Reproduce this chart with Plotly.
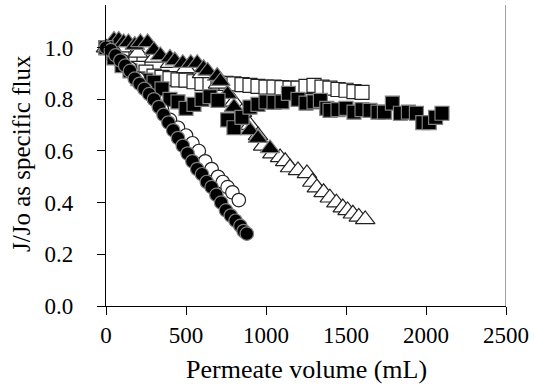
import plotly.graph_objects as go

# Filled circles
fc_x = [0, 30, 60, 90, 120, 150, 180, 210, 240, 270, 300, 330, 360, 390, 420, 450, 480, 510, 540, 570,
        600, 630, 660, 690, 720, 750, 780, 810, 840, 860, 880]
fc_y = [1.00, 0.99, 0.97, 0.95, 0.93, 0.91, 0.88, 0.86, 0.84, 0.82, 0.80, 0.77, 0.74, 0.71, 0.68, 0.65,
        0.62, 0.59, 0.56, 0.53, 0.51, 0.48, 0.46, 0.43, 0.40, 0.37, 0.35, 0.33, 0.31, 0.29, 0.28]

# Open circles
oc_x = [0, 50, 100, 150, 200, 250, 300, 350, 400, 450, 500, 540, 580, 620, 660, 700, 730, 760, 790, 830]
oc_y = [1.00, 0.98, 0.95, 0.92, 0.88, 0.84, 0.80, 0.76, 0.72, 0.69, 0.66, 0.63, 0.60, 0.56, 0.53, 0.50,
        0.48, 0.46, 0.44, 0.41]

# Filled triangles
ft_x = [50, 80, 110, 140, 180, 215, 260, 300, 340, 400, 430, 480, 530, 570, 610, 635, 695, 715, 760,
        800, 850, 900, 950, 1025]
ft_y = [1.03, 1.03, 1.02, 1.02, 1.01, 1.02, 1.02, 0.99, 0.97, 0.96, 0.95, 0.94, 0.94, 0.94, 0.92, 0.91,
        0.89, 0.87, 0.82, 0.77, 0.72, 0.68, 0.65, 0.61]

# Open triangles
ot_x = [0, 100, 200, 300, 400, 500, 600, 700, 760, 800, 850, 900, 950, 982, 1040, 1088, 1120, 1150,
        1200, 1256, 1290, 1318, 1360, 1399, 1440, 1480, 1510, 1543, 1580, 1620]
ot_y = [1.00, 1.00, 0.98, 0.96, 0.94, 0.92, 0.90, 0.86, 0.82, 0.79, 0.75, 0.70, 0.66, 0.62, 0.59, 0.575,
        0.56, 0.536, 0.525, 0.513, 0.48, 0.458, 0.44, 0.419, 0.40, 0.381, 0.37, 0.357, 0.345, 0.335]

# Open squares
os_x = [0, 50, 100, 150, 200, 250, 300, 350, 400, 450, 500, 550, 600, 650, 700, 750, 800, 850, 900,
        950, 1000, 1050, 1100, 1150, 1200, 1250, 1300, 1350, 1400, 1450, 1500, 1550, 1600]
os_y = [1.00, 0.98, 0.96, 0.94, 0.92, 0.905, 0.89, 0.885, 0.88, 0.875, 0.874, 0.868, 0.862, 0.862,
        0.862, 0.862, 0.86, 0.857, 0.854, 0.85, 0.847, 0.847, 0.845, 0.843, 0.843, 0.85, 0.854, 0.847,
        0.843, 0.838, 0.835, 0.83, 0.827]

# Filled squares
fs_x = [0, 50, 100, 150, 200, 250, 300, 350, 400, 450, 500, 550, 600, 650, 700, 760, 800, 850, 900,
        950, 1000, 1050, 1100, 1140, 1200, 1250, 1300, 1340, 1380, 1400, 1450, 1500, 1550, 1600, 1650,
        1700, 1740, 1790, 1840, 1890, 1940, 1980, 2020, 2060, 2100]
fs_y = [1.00, 0.96, 0.93, 0.91, 0.88, 0.874, 0.866, 0.84, 0.80, 0.79, 0.765, 0.78, 0.80, 0.81, 0.796,
        0.72, 0.69, 0.73, 0.77, 0.78, 0.79, 0.788, 0.79, 0.823, 0.80, 0.785, 0.79, 0.796, 0.765, 0.757,
        0.76, 0.765, 0.75, 0.76, 0.757, 0.75, 0.75, 0.785, 0.746, 0.75, 0.746, 0.71, 0.71, 0.73, 0.746]

x_ticks = [0, 500, 1000, 1500, 2000, 2500]
y_ticks = [0.0, 0.2, 0.4, 0.6, 0.8, 1.0]

FONT = "Liberation Serif, Times New Roman, serif"
fig = go.Figure()

def add(x, y, symbol, size, filled):
    fig.add_trace(go.Scatter(
        x=x, y=y, mode="markers", cliponaxis=False, showlegend=False,
        marker=dict(symbol=symbol, size=size,
                    color="black" if filled else "white",
                    line=dict(color="#808080" if filled else "#222222", width=1.2))))

add(os_x, os_y, "square", 14, False)
add(ot_x, ot_y, "triangle-up", 17, False)
add(ft_x, ft_y, "triangle-up", 17, True)
add(fs_x, fs_y, "square", 14, True)
add(oc_x, oc_y, "circle", 13.5, False)
add(fc_x, fc_y, "circle", 13.5, True)

fig.update_layout(
    width=534, height=385,
    margin=dict(l=105.5, r=27.5, t=5, b=79),
    paper_bgcolor="white", plot_bgcolor="white",
    font=dict(family=FONT, size=23, color="black"),
    xaxis=dict(range=[0, 2500], tickvals=x_ticks, ticktext=[str(v) for v in x_ticks],
               showgrid=False, zeroline=False, showline=True, linecolor="black", linewidth=1.3,
               ticks="outside", ticklen=8, tickcolor="black", tickwidth=1.3,
               tickfont=dict(family=FONT, size=23)),
    yaxis=dict(range=[0, 1.165], tickvals=y_ticks, ticktext=[f"{v:.1f}" for v in y_ticks],
               showgrid=False, zeroline=False, showline=True, linecolor="black", linewidth=1.3,
               ticks="outside", ticklen=8, tickcolor="black", tickwidth=1.3, ticklabelstandoff=19,
               tickfont=dict(family=FONT, size=23)),
    shapes=[dict(type="line", xref="x", yref="paper", x0=2500, x1=2500, y0=0, y1=1,
                 line=dict(color="#808080", width=1.5))],
    annotations=[
        dict(text="Permeate volume (mL)", xref="paper", yref="paper", x=0.5, y=-0.21,
             xanchor="center", yanchor="middle", showarrow=False,
             font=dict(family=FONT, size=26)),
        dict(text="J/Jo as specific flux", xref="paper", yref="paper", x=-0.211, y=0.507,
             xanchor="center", yanchor="middle", textangle=-90, showarrow=False,
             font=dict(family=FONT, size=25)),
    ],
)

fig.write_html("out.html", config={"displayModeBar": False},
               post_script="document.body.style.margin='0';")
